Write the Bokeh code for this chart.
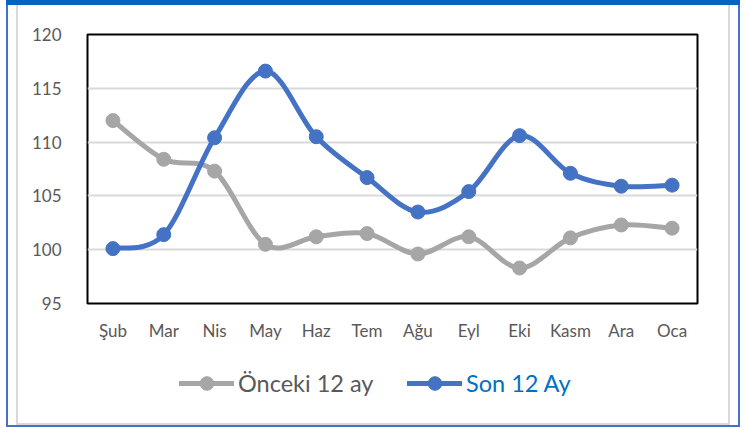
from bokeh.plotting import figure
from bokeh.models import Legend, LegendItem, FixedTicker, ColumnDataSource, Range1d
from bokeh.layouts import column
from bokeh.embed import file_html
from bokeh.resources import INLINE

months = ["Şub", "Mar", "Nis", "May", "Haz", "Tem", "Ağu", "Eyl", "Eki", "Kasm", "Ara", "Oca"]
onceki = [112.0, 108.4, 107.3, 100.5, 101.2, 101.5, 99.6, 101.2, 98.3, 101.1, 102.3, 102.0]
son = [100.1, 101.4, 110.4, 116.6, 110.5, 106.7, 103.5, 105.4, 110.6, 107.1, 105.9, 106.0]
y_ticks = [95, 100, 105, 110, 115, 120]
series_names = ["Önceki 12 ay", "Son 12 Ay"]

GRAY = "#A7A6A6"
BLUE = "#4472C4"
FONT = "Lato"


def smooth_segments(vals):
    # Excel-like smoothed line: cubic Bezier segments through the data points
    xs = [i + 0.5 for i in range(len(vals))]
    n = len(vals)
    d = dict(x0=[], y0=[], x1=[], y1=[], cx0=[], cy0=[], cx1=[], cy1=[])
    for i in range(n - 1):
        ip = max(i - 1, 0)
        inn = min(i + 2, n - 1)
        d["x0"].append(xs[i]); d["y0"].append(vals[i])
        d["x1"].append(xs[i + 1]); d["y1"].append(vals[i + 1])
        d["cx0"].append(xs[i] + (xs[i + 1] - xs[ip]) / 6.0)
        d["cy0"].append(vals[i] + (vals[i + 1] - vals[ip]) / 6.0)
        d["cx1"].append(xs[i + 1] - (xs[inn] - xs[i]) / 6.0)
        d["cy1"].append(vals[i + 1] - (vals[inn] - vals[i]) / 6.0)
    return ColumnDataSource(d)


p = figure(width=747, height=428, x_range=months, y_range=Range1d(95, 120),
           output_backend="svg", toolbar_location=None,
           min_border_left=87, min_border_right=50, min_border_top=34, min_border_bottom=125)
p.outline_line_color = "black"
p.outline_line_width = 2
p.background_fill_color = "white"
p.border_fill_alpha = 0

# page frame decoration as CSS background rectangles: (left, top, width, height, colour)
rects = [(6, 0, 734, 5, "#0563C1"), (6, 0, 2, 427, BLUE), (738, 0, 2, 427, BLUE),
         (6, 425, 734, 2, BLUE), (16, 5, 2, 420, "#D9D9D9"),
         (728, 5, 2, 420, "#D9D9D9"), (16, 423, 714, 2, "#D9D9D9")]
p.styles = {
    "background-color": "white",
    "background-image": ", ".join(f"linear-gradient({c}, {c})" for (_, _, _, _, c) in rects),
    "background-position": ", ".join(f"{l}px {t}px" for (l, t, _, _, _) in rects),
    "background-size": ", ".join(f"{w}px {h}px" for (_, _, w, h, _) in rects),
    "background-repeat": "no-repeat",
}

p.xgrid.grid_line_color = None
p.ygrid.grid_line_color = "#D9D9D9"
p.ygrid.grid_line_width = 2

p.yaxis.ticker = FixedTicker(ticks=y_ticks)
for ax in (p.xaxis[0], p.yaxis[0]):
    ax.axis_line_color = None
    ax.major_tick_line_color = None
    ax.minor_tick_line_color = None
    ax.major_label_text_font = FONT
    ax.major_label_text_font_size = "17px"
    ax.major_label_text_color = "#595959"
p.yaxis.major_label_standoff = 20
p.xaxis.major_label_standoff = 10

for vals, col in ((onceki, GRAY), (son, BLUE)):
    src = smooth_segments(vals)
    p.bezier(x0="x0", y0="y0", x1="x1", y1="y1", cx0="cx0", cy0="cy0", cx1="cx1", cy1="cy1",
             source=src, line_color=col, line_width=5, line_cap="round")
    p.scatter(x=months, y=vals, size=14, fill_color=col, line_color=col)

# legend strip: a transparent overlay figure under the plot area.
# Its y range lies below the series values, so its series renderers only feed the legend keys.
lp = figure(width=747, height=60, x_range=months, y_range=Range1d(0, 60),
            output_backend="svg", toolbar_location=None,
            min_border_left=0, min_border_right=0, min_border_top=0, min_border_bottom=0)
lp.axis.visible = False
lp.grid.visible = False
lp.outline_line_color = None
lp.background_fill_alpha = 0
lp.border_fill_alpha = 0
lp.styles = {"margin-top": "-75px"}

for name, vals, col, tcol, x in ((series_names[0], onceki, GRAY, "#595959", 92),
                                 (series_names[1], son, BLUE, "#0070C0", 320)):
    ln = lp.line(x=months, y=vals, line_color=col, line_width=5, line_cap="round")
    mk = lp.scatter(x=months, y=vals, size=14, fill_color=col, line_color=col)
    lg = Legend(items=[LegendItem(label=name, renderers=[ln, mk])], location=(x, 13),
                orientation="horizontal", border_line_color=None, background_fill_alpha=0,
                padding=0, margin=0, glyph_width=55, glyph_height=34, label_standoff=4,
                label_text_font=FONT, label_text_font_size="23.5px", label_text_color=tcol,
                label_height=34)
    lp.add_layout(lg, "center")

layout = column(p, lp)
open("out.html", "w").write(file_html(layout, INLINE))
